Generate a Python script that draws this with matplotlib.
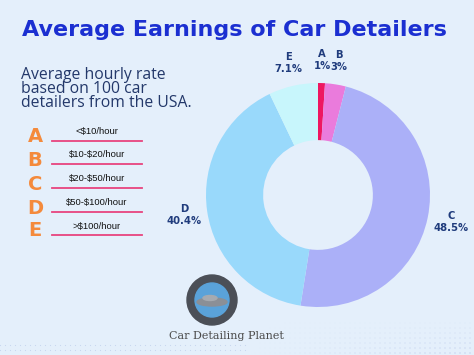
import numpy as np
import matplotlib
matplotlib.use('Agg')
import matplotlib.pyplot as plt
from matplotlib.patches import Circle, Ellipse

# data
letters = ['A', 'B', 'C', 'D', 'E']
shares = [1, 3, 48.5, 40.4, 7.1]
pct_text = ['1%', '3%', '48.5%', '40.4%', '7.1%']
ranges = ['<$10/hour', '$10-$20/hour', '$20-$50/hour', '$50-$100/hour', '>$100/hour']
colors = ['#ee1760', '#ea7bdc', '#abb0f8', '#99d9fb', '#c8f6fc']

plt.rcParams['text.parse_math'] = False

W, H = 474, 355
bg = '#e4effb'
fig = plt.figure(figsize=(W / 100, H / 100), dpi=100, facecolor=bg)

def px(x, y):
    # pixel (from top-left) -> figure fraction
    return x / W, 1 - y / H

# title + subtitle
fig.text(*px(234, 30), 'Average Earnings of Car Detailers', ha='center', va='center',
         fontsize=16, fontweight='bold', color='#1b2fd1', family='DejaVu Sans')
fig.text(*px(21, 89), 'Average hourly rate\nbased on 100 car\ndetailers from the USA.',
         ha='left', va='center', fontsize=11.3, color='#23386a', family='Open Sans',
         linespacing=0.84)

# legend with letters and pink underlines
leg_y = [137, 160, 184, 208, 231]
for i, (let, rng) in enumerate(zip(letters, ranges)):
    y = leg_y[i]
    fig.text(*px(35, y), let, ha='center', va='center', fontsize=14, fontweight='bold',
             color='#f48a3c', family='DejaVu Sans')
    fig.text(*px(97, y - 5), rng, ha='center', va='center', fontsize=6.8, color='#111111',
             family='Liberation Sans')
    x0, y0 = px(52, y + 4)
    x1, _ = px(142, y + 4)
    fig.add_artist(plt.Line2D([x0, x1], [y0, y0], color='#e8447e', lw=1.3))

# donut
cx, cy, r = 318, 195, 112
ax = fig.add_axes([(cx - r) / W, 1 - (cy + r) / H, 2 * r / W, 2 * r / H])
ax.set_facecolor(bg)
labels = [f'{l}\n{p}' for l, p in zip(letters, pct_text)]
wedges, texts = ax.pie(shares, colors=colors, startangle=90, counterclock=False,
                       labels=labels, labeldistance=1.21,
                       wedgeprops=dict(width=0.51, edgecolor='none'),
                       textprops=dict(fontsize=7.2, fontweight='bold', color='#1f3b7c',
                                      linespacing=1.25))
for t in texts:
    t.set_ha('center')
    t.set_va('center')
ax.set_aspect('equal')
ax.set_xlim(-1, 1)
ax.set_ylim(-1, 1)
ax.axis('off')

# logo
lax = fig.add_axes([0, 0, 1, 1], facecolor='none')
lax.set_xlim(0, W)
lax.set_ylim(H, 0)
lax.axis('off')
lax.add_patch(Circle((212, 300), 25, color='#4b4f57'))
lax.add_patch(Circle((212, 300), 17, color='#5aa2d9'))
lax.add_patch(Ellipse((212, 302), 30, 8, color='#8b8f96'))
lax.add_patch(Ellipse((210, 298), 14, 5, color='#a6aab0'))
lax.text(226, 336, 'Car Detailing Planet', ha='center', va='center', fontsize=8,
         color='#4a4a4a', family='DejaVu Serif')

# faint dotted texture at the bottom
gx, gy = np.meshgrid(np.arange(250, 474, 5), np.arange(318, 355, 5))
alpha = np.clip((gy - 318) / 37 * (gx - 250) / 224, 0, 1)
lax.scatter(gx.ravel(), gy.ravel(), s=0.6, c='#5a74c8', alpha=0.5 * alpha.ravel(), lw=0)
gx2, gy2 = np.meshgrid(np.arange(0, 250, 5), np.arange(345, 355, 5))
lax.scatter(gx2.ravel(), gy2.ravel(), s=0.6, c='#8aa0d8', alpha=0.35, lw=0)

fig.savefig('out.png', dpi=100, facecolor=bg)
